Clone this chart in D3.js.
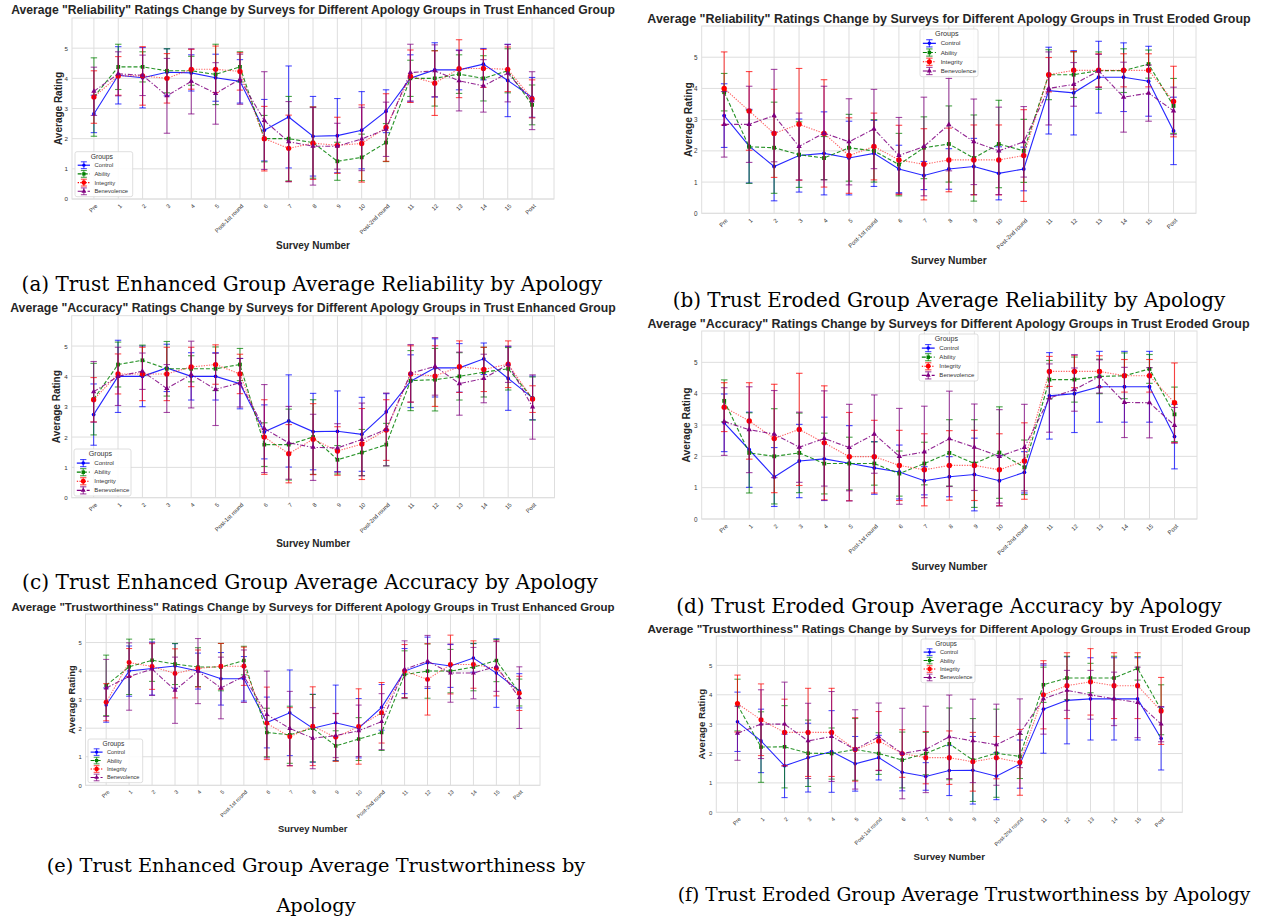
<!DOCTYPE html>
<html>
<head>
<meta charset="utf-8">
<script src="https://cdn.jsdelivr.net/npm/d3@7"></script>
<style>
  body { margin: 0; background: #fff; }
  svg { display: block; }
</style>
</head>
<body>
<svg id="fig" width="1261" height="919"></svg>
<script>
// survey labels along the x axis
const surveys = ["Pre", "1", "2", "3", "4", "5", "Post-1st round", "6", "7", "8", "9", "10",
  "Post-2nd round", "11", "12", "13", "14", "15", "Post"];
const groups = ["Control", "Ability", "Integrity", "Benevolence"];
const yTicks = [0, 1, 2, 3, 4, 5];

// rows are Control, Ability, Integrity, Benevolence
const relEnhMean = [
  [2.82, 4.1, 4.02, 4.2, 4.18, 4.02, 3.9, 2.28, 2.72, 2.08, 2.1, 2.28, 2.91, 4.0, 4.28, 4.28, 4.47, 3.93, 3.37],
  [3.38, 4.38, 4.38, 4.25, 4.25, 4.13, 4.38, 2.0, 2.0, 1.87, 1.25, 1.38, 1.87, 4.0, 4.0, 4.14, 4.0, 4.25, 3.12],
  [3.38, 4.08, 4.08, 4.0, 4.3, 4.3, 4.23, 2.0, 1.68, 1.85, 1.78, 1.84, 2.37, 4.07, 3.84, 4.32, 4.33, 4.3, 3.32],
  [3.57, 4.15, 4.1, 3.42, 3.9, 3.5, 3.97, 2.6, 1.9, 1.75, 1.75, 1.99, 2.31, 4.19, 4.25, 3.92, 3.75, 4.17, 3.26]
];
const relEnhErr = [
  [0.62, 0.95, 1.0, 0.78, 0.6, 0.78, 0.72, 1.02, 1.69, 1.32, 1.23, 1.28, 0.71, 0.78, 0.9, 0.66, 0.52, 1.2, 0.66],
  [1.3, 0.75, 0.5, 0.73, 0.48, 1.0, 0.5, 0.77, 1.4, 1.18, 0.63, 0.77, 0.63, 0.6, 0.92, 0.64, 0.75, 0.73, 0.66],
  [0.87, 0.64, 0.97, 0.82, 0.66, 0.77, 0.62, 1.07, 1.1, 1.2, 0.93, 1.28, 1.12, 0.87, 1.07, 0.96, 0.63, 0.74, 0.63],
  [0.8, 0.73, 0.67, 1.24, 1.08, 1.02, 0.83, 1.62, 1.33, 1.29, 0.76, 1.05, 0.9, 0.94, 0.86, 1.0, 0.87, 0.95, 0.96]
];

const relEroMean = [
  [3.13, 2.15, 1.5, 1.85, 1.92, 1.77, 1.92, 1.42, 1.21, 1.42, 1.5, 1.28, 1.42, 3.93, 3.86, 4.36, 4.36, 4.23, 2.64],
  [3.88, 2.13, 2.1, 1.88, 1.77, 2.1, 2.0, 1.56, 2.1, 2.22, 1.77, 2.22, 2.0, 4.44, 4.44, 4.57, 4.57, 4.78, 3.44],
  [4.0, 3.28, 2.56, 2.85, 2.56, 1.85, 2.14, 1.71, 1.57, 1.71, 1.71, 1.71, 1.85, 4.44, 4.58, 4.58, 4.58, 4.58, 3.58],
  [2.85, 2.85, 3.13, 2.14, 2.57, 2.29, 2.7, 1.85, 2.14, 2.84, 2.29, 2.0, 2.29, 4.0, 4.13, 4.56, 3.72, 3.85, 3.28]
];
const relEroErr = [
  [1.02, 1.18, 1.1, 1.17, 1.33, 1.18, 1.06, 0.76, 0.45, 0.65, 0.9, 0.85, 0.7, 1.39, 1.35, 1.15, 1.1, 1.12, 1.08],
  [0.6, 1.17, 1.46, 1.05, 0.69, 1.07, 1.0, 1.0, 0.99, 1.22, 1.38, 1.4, 1.01, 0.8, 0.73, 0.6, 0.7, 0.45, 0.88],
  [1.17, 1.26, 1.41, 1.79, 1.72, 1.21, 1.07, 1.11, 1.14, 1.02, 1.12, 1.12, 1.47, 0.55, 0.6, 0.53, 0.53, 0.53, 1.13],
  [1.05, 1.22, 1.48, 1.07, 1.5, 1.38, 1.27, 1.22, 1.58, 1.48, 1.37, 1.4, 1.13, 1.17, 0.7, 0.53, 1.12, 0.9, 0.76]
];

const accEnhMean = [
  [2.74, 4.0, 4.0, 4.28, 4.0, 4.0, 3.76, 2.17, 2.53, 2.18, 2.19, 2.09, 2.83, 3.84, 4.28, 4.28, 4.58, 3.93, 3.29],
  [3.25, 4.39, 4.53, 4.25, 4.25, 4.25, 4.39, 1.75, 1.75, 2.0, 1.25, 1.49, 1.75, 3.86, 3.89, 4.0, 4.14, 4.25, 3.27],
  [3.23, 4.08, 4.08, 4.08, 4.31, 4.39, 4.08, 2.0, 1.45, 1.93, 1.54, 1.77, 2.23, 4.08, 4.01, 4.32, 4.23, 4.4, 3.25],
  [3.49, 4.0, 4.17, 3.6, 4.06, 3.57, 3.79, 2.28, 1.81, 1.66, 1.64, 1.92, 2.25, 4.1, 4.33, 3.76, 3.93, 4.4, 2.99]
];
const accEnhErr = [
  [1.01, 1.19, 1.0, 0.78, 0.78, 0.78, 0.83, 0.89, 1.52, 1.26, 1.33, 1.22, 0.6, 0.87, 0.96, 0.8, 0.52, 1.05, 0.72],
  [1.18, 0.74, 0.5, 0.9, 0.43, 0.72, 0.53, 0.72, 1.17, 1.23, 0.47, 0.76, 0.7, 0.99, 1.03, 0.78, 0.82, 0.7, 0.71],
  [0.73, 0.66, 0.88, 0.88, 0.65, 0.65, 0.65, 1.23, 0.96, 1.17, 0.8, 1.17, 1.0, 0.93, 1.0, 0.85, 0.73, 0.77, 0.44],
  [1.0, 0.96, 0.6, 0.79, 1.1, 1.19, 0.8, 1.45, 1.2, 1.09, 0.8, 1.2, 1.2, 0.95, 0.95, 1.04, 0.8, 0.6, 1.06]
];

const accEroMean = [
  [3.07, 2.21, 1.34, 1.85, 1.92, 1.78, 1.63, 1.5, 1.22, 1.35, 1.42, 1.22, 1.49, 3.93, 4.0, 4.22, 4.22, 4.22, 2.63],
  [3.77, 2.11, 2.0, 2.11, 1.77, 1.77, 1.77, 1.45, 1.77, 2.11, 1.77, 2.12, 1.65, 4.45, 4.45, 4.55, 4.57, 4.79, 3.34],
  [3.57, 3.13, 2.57, 2.86, 2.43, 1.99, 1.99, 1.71, 1.57, 1.71, 1.71, 1.57, 1.85, 4.71, 4.71, 4.71, 4.57, 4.57, 3.71],
  [3.11, 2.85, 2.71, 2.29, 2.57, 2.28, 2.71, 2.0, 2.14, 2.56, 2.29, 2.0, 2.28, 3.86, 4.13, 4.55, 3.72, 3.71, 2.99]
];
const accEroErr = [
  [0.92, 1.2, 0.94, 1.17, 1.33, 1.2, 0.84, 0.86, 0.45, 0.64, 1.16, 0.8, 0.66, 1.38, 1.24, 1.13, 1.13, 1.13, 1.03],
  [0.67, 1.28, 1.52, 1.27, 0.97, 0.84, 0.69, 0.72, 0.68, 1.06, 1.4, 1.46, 0.87, 0.61, 0.72, 0.55, 0.73, 0.46, 0.87],
  [0.78, 1.22, 1.73, 1.79, 1.82, 1.41, 1.16, 1.12, 1.15, 1.11, 1.12, 1.15, 1.22, 0.48, 0.52, 0.5, 0.52, 0.52, 1.27],
  [1.08, 1.37, 1.39, 1.12, 1.52, 1.38, 1.25, 1.53, 1.46, 1.52, 1.38, 1.49, 1.38, 1.09, 0.69, 0.53, 1.12, 1.12, 0.57]
];

const trustEnhMean = [
  [2.81, 4.0, 4.09, 4.18, 4.0, 3.73, 3.73, 2.2, 2.54, 2.0, 2.19, 2.0, 2.73, 4.0, 4.29, 4.18, 4.46, 3.93, 3.31],
  [3.5, 4.15, 4.38, 4.25, 4.14, 4.14, 4.37, 1.85, 1.77, 2.0, 1.38, 1.62, 1.85, 3.88, 4.0, 4.0, 4.14, 4.37, 3.25],
  [2.91, 4.3, 4.16, 3.92, 4.09, 4.17, 4.17, 2.17, 1.7, 2.07, 1.68, 2.06, 2.54, 4.0, 3.71, 4.23, 4.23, 4.09, 3.22],
  [3.41, 3.81, 4.07, 3.33, 4.0, 3.41, 3.82, 2.48, 1.99, 1.65, 1.74, 1.91, 2.23, 4.06, 4.35, 3.93, 3.93, 4.17, 3.07]
];
const trustEnhErr = [
  [0.6, 0.88, 0.93, 0.78, 0.63, 0.92, 0.78, 0.89, 1.5, 1.19, 1.32, 1.04, 0.8, 0.79, 0.9, 0.75, 0.5, 1.2, 0.6],
  [1.06, 0.97, 0.74, 0.72, 0.68, 0.83, 0.5, 0.85, 1.0, 1.18, 0.53, 0.75, 0.63, 0.83, 0.95, 0.76, 0.83, 0.74, 0.47],
  [0.65, 0.49, 0.8, 0.86, 0.65, 0.8, 0.67, 1.27, 1.02, 1.38, 0.84, 1.32, 1.06, 0.93, 1.25, 1.03, 0.83, 0.96, 0.6],
  [1.0, 1.18, 0.92, 1.16, 1.14, 1.08, 0.92, 1.52, 1.3, 1.07, 0.77, 0.9, 0.98, 1.0, 0.9, 1.02, 0.9, 0.88, 1.08]
];

const trustEroMean = [
  [3.08, 2.43, 1.58, 1.86, 2.07, 1.65, 1.86, 1.36, 1.22, 1.42, 1.43, 1.23, 1.64, 3.51, 3.81, 3.86, 3.86, 3.86, 2.51],
  [3.65, 2.22, 2.23, 2.01, 2.0, 2.14, 2.0, 1.78, 2.0, 2.33, 1.78, 2.01, 1.9, 4.34, 4.57, 4.57, 4.57, 4.9, 3.49],
  [3.7, 3.15, 2.72, 2.72, 2.72, 2.14, 2.43, 2.0, 1.86, 1.86, 1.72, 1.86, 1.7, 4.0, 4.31, 4.44, 4.31, 4.31, 3.45],
  [2.69, 3.0, 3.0, 2.43, 2.58, 2.14, 2.57, 2.0, 2.14, 2.57, 2.43, 2.3, 2.69, 3.86, 4.15, 4.0, 3.86, 3.74, 3.0]
];
const trustEroErr = [
  [1.01, 1.08, 1.08, 1.17, 1.39, 0.93, 0.76, 0.63, 0.47, 0.85, 1.15, 0.8, 0.82, 1.5, 1.48, 1.4, 1.4, 1.4, 1.07],
  [0.88, 1.2, 1.4, 1.13, 0.87, 1.05, 0.71, 0.95, 0.72, 1.22, 1.41, 1.5, 0.75, 0.6, 0.74, 0.5, 0.74, 0.4, 0.85],
  [0.97, 1.22, 1.13, 1.5, 1.5, 1.08, 1.0, 0.81, 0.89, 0.91, 1.0, 0.72, 1.12, 1.16, 1.12, 1.13, 1.12, 1.12, 1.14],
  [0.92, 1.17, 1.43, 1.28, 1.53, 1.35, 1.15, 1.54, 1.47, 1.42, 1.42, 1.38, 1.17, 1.2, 0.68, 0.83, 0.91, 1.2, 0.6]
];

// look of each group: colour, dash pattern, marker
const styles = [
  { color: "#0000ff", dash: null, symbol: d3.symbolCircle, size: 11 },
  { color: "#008000", dash: "4,2", symbol: d3.symbolSquare, size: 14 },
  { color: "#ff0000", dash: "1.3,1.3", symbol: d3.symbolCircle, size: 22 },
  { color: "#800080", dash: "5,1.8,1.3,1.8", symbol: d3.symbolTriangle, size: 12 }
];

const titleStart = 'Average "';
const titleEnd = {
  enh: '" Ratings Change by Surveys for Different Apology Groups in Trust Enhanced Group',
  ero: '" Ratings Change by Surveys for Different Apology Groups in Trust Eroded Group'
};

// where each sub figure sits on the page
const panels = [
  { title: titleStart + "Reliability" + titleEnd.enh, mean: relEnhMean, err: relEnhErr,
    caption: ["(a) Trust Enhanced Group Average Reliability by Apology"], capX: 312, capY: [291], capW: 581,
    box: [72, 18, 554, 199], tx: [11, 615], ty: 14, xlabY: 249, ylabX: 58,
    legend: [75, 151.7, 57.7, 45] },
  { title: titleStart + "Reliability" + titleEnd.ero, mean: relEroMean, err: relEroErr,
    caption: ["(b) Trust Eroded Group Average Reliability by Apology"], capX: 949, capY: [307], capW: 553,
    box: [701.7, 26, 1196, 213.3], tx: [647, 1251], ty: 23, xlabY: 264, ylabX: 688,
    legend: [920, 29, 58, 47.7] },
  { title: titleStart + "Accuracy" + titleEnd.enh, mean: accEnhMean, err: accEnhErr,
    caption: ["(c) Trust Enhanced Group Average Accuracy by Apology"], capX: 310, capY: [589], capW: 576,
    box: [71.7, 315.7, 554.5, 497.7], tx: [10, 616], ty: 312, xlabY: 547, ylabX: 56,
    legend: [74, 449, 57, 47] },
  { title: titleStart + "Accuracy" + titleEnd.ero, mean: accEroMean, err: accEroErr,
    caption: ["(d) Trust Eroded Group Average Accuracy by Apology"], capX: 949, capY: [613], capW: 546,
    box: [701.7, 331, 1197, 519], tx: [647, 1250], ty: 328, xlabY: 570, ylabX: 686,
    legend: [919, 334, 59, 47] },
  { title: titleStart + "Trustworthiness" + titleEnd.enh, mean: trustEnhMean, err: trustEnhErr,
    caption: ["(e) Trust Enhanced Group Average Trustworthiness by", "Apology"], capX: 316, capY: [872, 912], capW: 539,
    box: [85.5, 614, 540, 785.3], tx: [11, 615], ty: 611, xlabY: 832, ylabX: 72,
    legend: [88, 739, 54.7, 43.7] },
  { title: titleStart + "Trustworthiness" + titleEnd.ero, mean: trustEroMean, err: trustEroErr,
    caption: ["(f) Trust Eroded Group Average Trustworthiness by Apology"], capX: 964, capY: [901], capW: 573,
    box: [716.3, 636, 1182.3, 812.3], tx: [647, 1251], ty: 633, xlabY: 860, ylabX: 702,
    legend: [921, 639, 54, 43.7] }
];

const svg = d3.select("#fig");
const sans = "'Liberation Sans', Arial, sans-serif";
const grid = "#dedede";

// squeeze a text to a wanted width by changing its font size
function fitWidth(sel, width) {
  const w = sel.node().getComputedTextLength();
  const fs = parseFloat(sel.attr("font-size"));
  sel.attr("font-size", fs * width / w);
  return fs * width / w;
}

function drawPanel(p) {
  const [x0, y0, x1, y1] = p.box;
  const k = (x1 - x0) / 482; // panels are scaled slightly differently
  const g = svg.append("g");

  const x = d3.scalePoint().domain(surveys).range([x0, x1]).padding(0.9);
  const y = d3.scaleLinear().domain([0, 6]).range([y1, y0]);

  // grid lines
  g.append("g").selectAll("line").data(surveys).join("line")
    .attr("x1", d => x(d)).attr("x2", d => x(d))
    .attr("y1", y0).attr("y2", y1)
    .attr("stroke", grid).attr("stroke-width", 1);
  g.append("g").selectAll("line").data(yTicks).join("line")
    .attr("x1", x0).attr("x2", x1)
    .attr("y1", d => y(d)).attr("y2", d => y(d))
    .attr("stroke", grid).attr("stroke-width", 1);
  g.append("rect")
    .attr("x", x0).attr("y", y0).attr("width", x1 - x0).attr("height", y1 - y0)
    .attr("fill", "none").attr("stroke", grid).attr("stroke-width", 1);

  // axes
  const yAxis = g.append("g").attr("transform", `translate(${x0},0)`)
    .call(d3.axisLeft(y).tickValues(yTicks).tickFormat(d3.format("d")).tickSize(0).tickPadding(4 * k));
  yAxis.select(".domain").remove();
  yAxis.selectAll("text").attr("font-family", sans).attr("font-size", 6.2 * k).attr("fill", "#333");

  const xAxis = g.append("g").attr("transform", `translate(0,${y1})`)
    .call(d3.axisBottom(x).tickSize(0));
  xAxis.select(".domain").remove();
  xAxis.selectAll("text")
    .attr("y", 0).attr("x", 0).attr("dy", "0.35em")
    .attr("transform", `translate(${2 * k},${6 * k}) rotate(-45)`)
    .attr("text-anchor", "end")
    .attr("font-family", sans).attr("font-size", 5.8 * k).attr("fill", "#333");

  // series
  p.mean.forEach((vals, gi) => {
    const st = styles[gi];
    const errs = p.err[gi];
    const s = g.append("g");
    const line = d3.line().x((d, i) => x(surveys[i])).y(d => y(d));
    s.append("path").datum(vals)
      .attr("d", line).attr("fill", "none")
      .attr("stroke", st.color).attr("stroke-width", 1.1 * k)
      .attr("stroke-opacity", gi === 2 ? 0.6 : 0.85)
      .attr("stroke-dasharray", st.dash);

    const eb = s.append("g").attr("stroke", st.color).attr("stroke-opacity", 0.7)
      .attr("stroke-width", 1.1 * k);
    const cap = 3.2 * k;
    vals.forEach((m, i) => {
      const cx = x(surveys[i]);
      const lo = y(m - errs[i]), hi = y(m + errs[i]);
      eb.append("line").attr("x1", cx).attr("x2", cx).attr("y1", lo).attr("y2", hi);
      eb.append("line").attr("x1", cx - cap).attr("x2", cx + cap).attr("y1", lo).attr("y2", lo);
      eb.append("line").attr("x1", cx - cap).attr("x2", cx + cap).attr("y1", hi).attr("y2", hi);
    });

    s.append("g").selectAll("path").data(vals).join("path")
      .attr("transform", (d, i) => `translate(${x(surveys[i])},${y(d)})`)
      .attr("d", d3.symbol(st.symbol, st.size * k * k))
      .attr("fill", st.color);
  });

  // title and axis labels
  const t = g.append("text")
    .attr("x", (p.tx[0] + p.tx[1]) / 2).attr("y", p.ty)
    .attr("text-anchor", "middle").attr("font-family", sans)
    .attr("font-weight", "bold").attr("font-size", 12).attr("fill", "#262626")
    .text(p.title);
  fitWidth(t, p.tx[1] - p.tx[0]);

  g.append("text")
    .attr("x", (x0 + x1) / 2).attr("y", p.xlabY)
    .attr("text-anchor", "middle").attr("font-family", sans)
    .attr("font-weight", "bold").attr("font-size", 10 * k).attr("fill", "#262626")
    .text("Survey Number");
  g.append("text")
    .attr("transform", `translate(${p.ylabX},${(y0 + y1) / 2}) rotate(-90)`)
    .attr("text-anchor", "middle").attr("dy", "0.35em").attr("font-family", sans)
    .attr("font-weight", "bold").attr("font-size", 10 * k).attr("fill", "#262626")
    .text("Average Rating");

  // legend
  const [lx, ly, lw, lh] = p.legend;
  const u = lh / 45;
  const lg = g.append("g").attr("transform", `translate(${lx},${ly})`);
  lg.append("rect").attr("width", lw).attr("height", lh).attr("rx", 2)
    .attr("fill", "#fff").attr("fill-opacity", 0.85)
    .attr("stroke", "#d6d6d6").attr("stroke-width", 0.8);
  lg.append("text").attr("x", lw / 2 - 2 * u).attr("y", 4.6 * u).attr("dy", "0.35em")
    .attr("text-anchor", "middle").attr("font-family", sans).attr("font-size", 6.8 * u)
    .attr("fill", "#333").text("Groups");
  groups.forEach((name, gi) => {
    const st = styles[gi];
    const cy = (13.5 + gi * 8.7) * u;
    const hx0 = 2.7 * u, hx1 = 15 * u, hc = (hx0 + hx1) / 2;
    const e = lg.append("g").attr("stroke", st.color).attr("stroke-width", 1.1 * u);
    e.append("line").attr("x1", hx0).attr("x2", hx1).attr("y1", cy).attr("y2", cy)
      .attr("stroke-dasharray", st.dash);
    e.append("line").attr("x1", hc).attr("x2", hc).attr("y1", cy - 3.4 * u).attr("y2", cy + 3.4 * u)
      .attr("stroke-opacity", 0.7);
    e.append("line").attr("x1", hc - 3 * u).attr("x2", hc + 3 * u).attr("y1", cy - 3.4 * u).attr("y2", cy - 3.4 * u)
      .attr("stroke-opacity", 0.7);
    e.append("line").attr("x1", hc - 3 * u).attr("x2", hc + 3 * u).attr("y1", cy + 3.4 * u).attr("y2", cy + 3.4 * u)
      .attr("stroke-opacity", 0.7);
    lg.append("path").attr("transform", `translate(${hc},${cy})`)
      .attr("d", d3.symbol(st.symbol, st.size * 0.8 * u * u)).attr("fill", st.color);
    lg.append("text").attr("x", 19.5 * u).attr("y", cy).attr("dy", "0.35em")
      .attr("font-family", sans).attr("font-size", 5.8 * u).attr("fill", "#333").text(name);
  });

  // caption under the sub figure, later lines keep the size of the first
  let capSize = 17;
  p.caption.forEach((line, li) => {
    const c = g.append("text")
      .attr("x", p.capX).attr("y", p.capY[li])
      .attr("text-anchor", "middle").attr("font-family", "'DejaVu Serif', serif")
      .attr("font-size", capSize).attr("fill", "#000").text(line);
    if (li === 0) capSize = fitWidth(c, p.capW);
  });
}

panels.forEach(drawPanel);
</script>
</body>
</html>
